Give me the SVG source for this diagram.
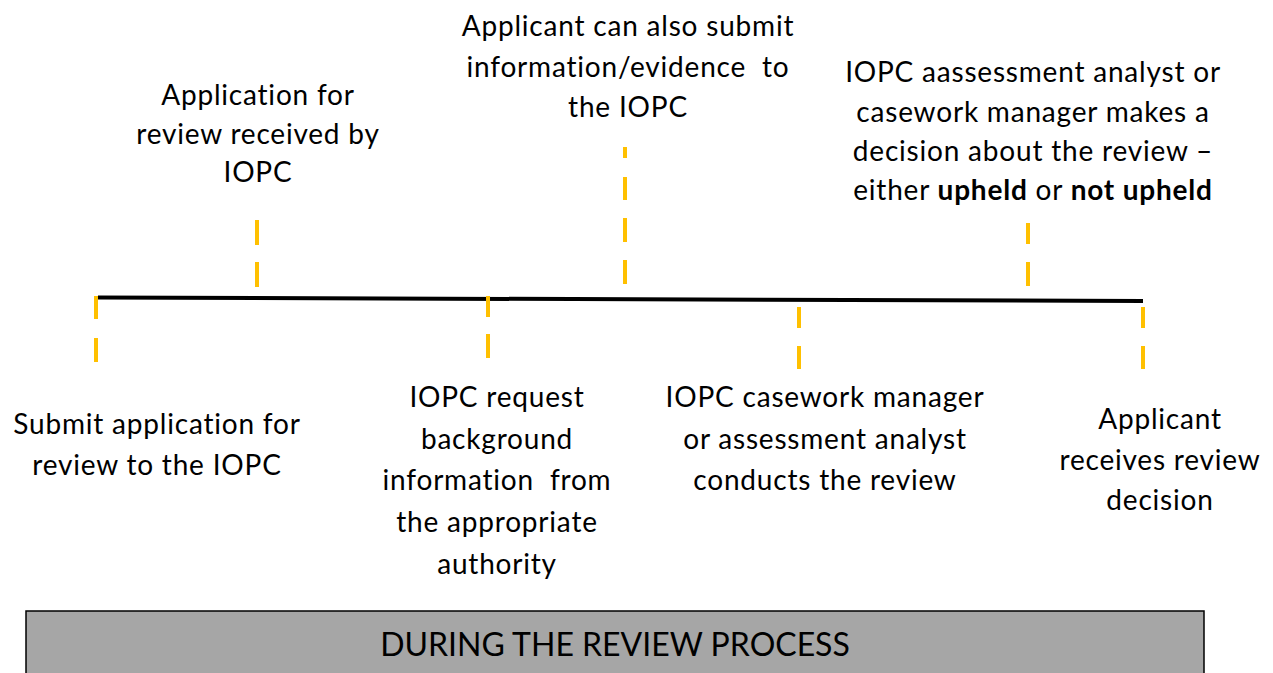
<svg xmlns="http://www.w3.org/2000/svg" width="1273" height="673" viewBox="0 0 1273 673">
<style>
.t{font-family:Lato,"Open Sans","Liberation Sans",sans-serif;font-size:28px;letter-spacing:0.8px;fill:#000;text-anchor:middle;white-space:pre}
.b{font-weight:bold}
.tick{stroke:#FFC000;stroke-width:4;fill:none}
.bar{font-family:Lato,"Open Sans","Liberation Sans",sans-serif;font-size:32px;fill:#000;text-anchor:middle}
</style>
<rect width="1273" height="673" fill="#fff"/>
<g id="connectors">
<line x1="98" y1="297.5" x2="1143" y2="301" stroke="#000" stroke-width="4"/>
<path class="tick" d="M96,296V319M96,338V362"/>
<path class="tick" d="M257,220V245M257,262V287"/>
<path class="tick" d="M488,296V317M488,334V358"/>
<path class="tick" d="M625,147V158M625,177V200M625,218V242M625,260V284"/>
<path class="tick" d="M799,307V328M799,346V369"/>
<path class="tick" d="M1028,223V244M1028,262V286"/>
<path class="tick" d="M1143,307V328M1143,346V369"/>
</g>
<g id="n1"><text class="t"><tspan x="157" y="434">Submit application for</tspan><tspan x="157" y="475">review to the IOPC</tspan></text></g>
<g id="n2"><text class="t"><tspan x="258" y="105">Application for</tspan><tspan x="258" y="144">review received by</tspan><tspan x="258" y="182">IOPC</tspan></text></g>
<g id="n3"><text class="t"><tspan x="628" y="36">Applicant can also submit</tspan><tspan x="628" y="77">information/evidence  to</tspan><tspan x="628" y="117">the IOPC</tspan></text></g>
<g id="n4"><text class="t"><tspan x="1033" y="82">IOPC aassessment analyst or</tspan><tspan x="1033" y="122">casework manager makes a</tspan><tspan x="1033" y="161">decision about the review –</tspan><tspan x="1033" y="200">either <tspan class="b">upheld</tspan> or <tspan class="b">not upheld</tspan></tspan></text></g>
<g id="n5"><text class="t"><tspan x="497" y="407">IOPC request</tspan><tspan x="497" y="449">background</tspan><tspan x="497" y="490">information  from</tspan><tspan x="497" y="532">the appropriate</tspan><tspan x="497" y="574">authority</tspan></text></g>
<g id="n6"><text class="t"><tspan x="825" y="407">IOPC casework manager</tspan><tspan x="825" y="449">or assessment analyst</tspan><tspan x="825" y="490">conducts the review</tspan></text></g>
<g id="n7"><text class="t"><tspan x="1160" y="429">Applicant</tspan><tspan x="1160" y="470">receives review</tspan><tspan x="1160" y="510">decision</tspan></text></g>
<g id="bar"><rect x="26" y="611" width="1178" height="75" fill="#A6A6A6" stroke="#000" stroke-width="1.5"/><text class="bar" x="615" y="656">DURING THE REVIEW PROCESS</text></g>
</svg>
